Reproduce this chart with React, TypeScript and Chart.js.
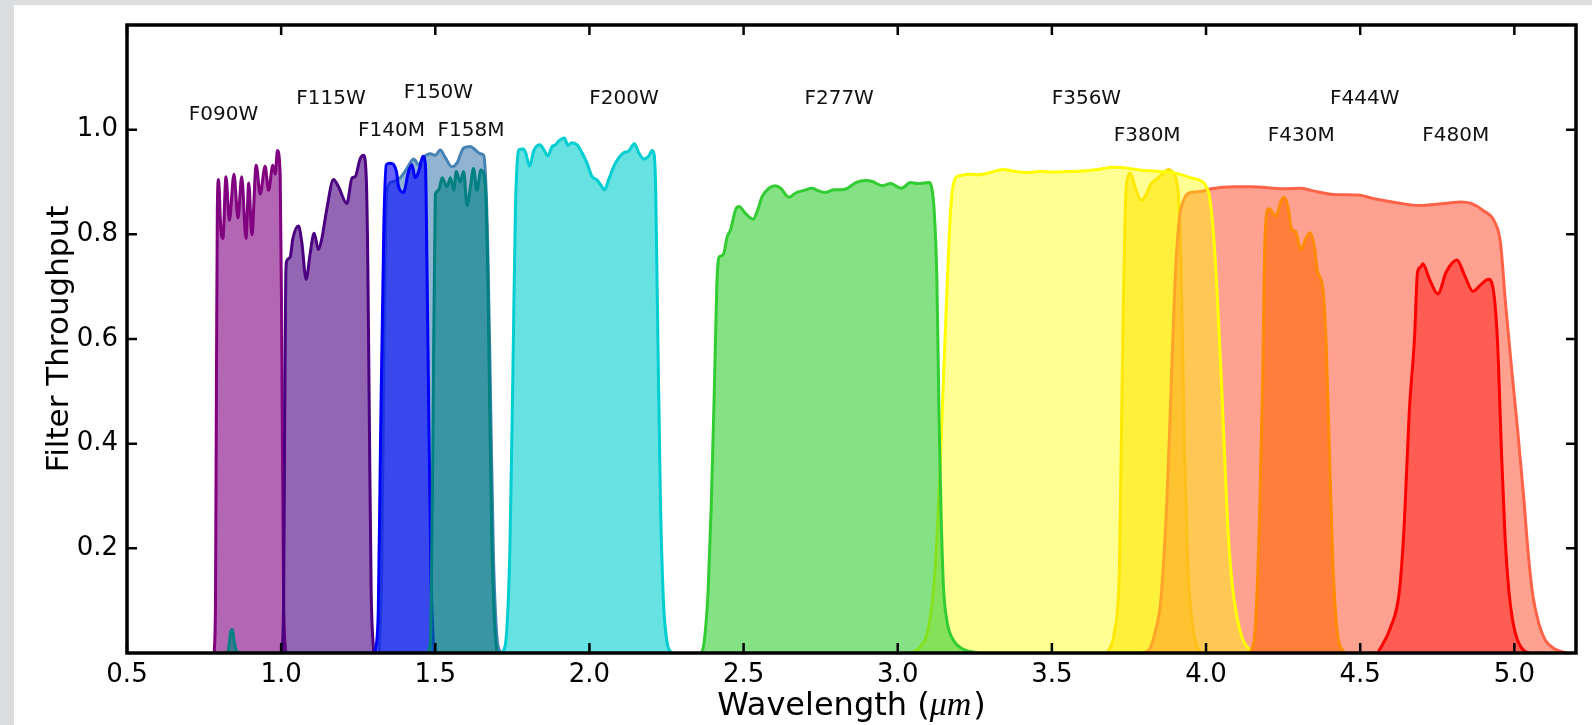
import { useEffect, useRef } from 'react';
import { Chart, registerables } from 'chart.js';

Chart.register(...registerables);

// ---------- Data (wavelength in µm, throughput) ----------
const F090W_X = [0.783, 0.787, 0.790, 0.793, 0.797, 0.804, 0.811, 0.821, 0.832, 0.847, 0.860, 0.872, 0.886, 0.895, 0.905, 0.919, 0.932, 0.948, 0.959, 0.973, 0.981, 0.988, 0.997, 1.002, 1.008, 1.015];
const F090W_Y = [0, 0.1, 0.5, 0.85, 0.905, 0.813, 0.792, 0.910, 0.827, 0.915, 0.831, 0.910, 0.792, 0.898, 0.799, 0.932, 0.877, 0.930, 0.884, 0.932, 0.915, 0.960, 0.91, 0.60, 0.10, 0];

const F115W_X = [1.003, 1.008, 1.012, 1.015, 1.018, 1.029, 1.038, 1.056, 1.067, 1.081, 1.094, 1.107, 1.121, 1.132, 1.148, 1.170, 1.186, 1.213, 1.230, 1.240, 1.256, 1.267, 1.276, 1.281, 1.286, 1.292, 1.300];
const F115W_Y = [0, 0.1, 0.5, 0.72, 0.749, 0.756, 0.792, 0.816, 0.785, 0.714, 0.763, 0.802, 0.771, 0.792, 0.848, 0.905, 0.891, 0.859, 0.908, 0.91, 0.944, 0.951, 0.91, 0.75, 0.45, 0.12, 0];

const F150W_X = [1.318, 1.326, 1.334, 1.342, 1.360, 1.386, 1.408, 1.430, 1.446, 1.462, 1.484, 1.500, 1.516, 1.532, 1.554, 1.570, 1.592, 1.614, 1.630, 1.646, 1.657, 1.663, 1.670, 1.678, 1.688, 1.700, 1.712];
const F150W_Y = [0, 0.15, 0.6, 0.88, 0.90, 0.908, 0.926, 0.944, 0.933, 0.947, 0.954, 0.951, 0.961, 0.947, 0.929, 0.936, 0.965, 0.968, 0.961, 0.954, 0.951, 0.91, 0.78, 0.53, 0.2, 0.03, 0];

const F140M_X = [1.305, 1.315, 1.322, 1.333, 1.341, 1.354, 1.365, 1.374, 1.381, 1.397, 1.413, 1.424, 1.435, 1.446, 1.460, 1.468, 1.473, 1.479, 1.486, 1.495];
const F140M_Y = [0, 0.08, 0.39, 0.813, 0.933, 0.936, 0.933, 0.92, 0.891, 0.880, 0.92, 0.933, 0.908, 0.92, 0.949, 0.933, 0.742, 0.45, 0.15, 0];

const F158M_X = [0.815, 0.828, 0.836, 0.842, 0.848, 0.856, 0.870, 1.470, 1.484, 1.492, 1.500, 1.511, 1.522, 1.538, 1.549, 1.560, 1.568, 1.581, 1.592, 1.603, 1.614, 1.624, 1.635, 1.648, 1.659, 1.665, 1.670, 1.677, 1.684, 1.692, 1.700];
const F158M_Y = [0, 0.003, 0.04, 0.045, 0.02, 0.003, 0, 0, 0.02, 0.39, 0.876, 0.884, 0.908, 0.891, 0.908, 0.884, 0.92, 0.90, 0.92, 0.855, 0.891, 0.926, 0.884, 0.923, 0.911, 0.86, 0.74, 0.45, 0.2, 0.06, 0];

const F200W_X = [1.718, 1.730, 1.742, 1.752, 1.760, 1.766, 1.771, 1.785, 1.793, 1.806, 1.819, 1.839, 1.852, 1.865, 1.879, 1.890, 1.900, 1.919, 1.930, 1.943, 1.960, 1.976, 1.992, 2.008, 2.024, 2.037, 2.049, 2.062, 2.079, 2.095, 2.111, 2.127, 2.146, 2.160, 2.176, 2.192, 2.203, 2.210, 2.215, 2.222, 2.230, 2.240, 2.252, 2.265];
const F200W_Y = [0, 0.03, 0.2, 0.55, 0.85, 0.94, 0.962, 0.963, 0.956, 0.930, 0.959, 0.971, 0.962, 0.950, 0.968, 0.971, 0.978, 0.984, 0.970, 0.975, 0.971, 0.956, 0.936, 0.911, 0.904, 0.894, 0.885, 0.904, 0.930, 0.946, 0.956, 0.959, 0.973, 0.956, 0.944, 0.949, 0.960, 0.952, 0.88, 0.6, 0.3, 0.1, 0.02, 0];

const F277W_X = [2.365, 2.373, 2.385, 2.395, 2.405, 2.413, 2.418, 2.423, 2.434, 2.447, 2.458, 2.474, 2.485, 2.506, 2.531, 2.546, 2.560, 2.582, 2.604, 2.620, 2.647, 2.669, 2.696, 2.723, 2.739, 2.766, 2.793, 2.815, 2.836, 2.864, 2.896, 2.918, 2.950, 2.977, 3.012, 3.042, 3.063, 3.085, 3.102, 3.109, 3.118, 3.127, 3.134, 3.140, 3.148, 3.160, 3.180, 3.210, 3.260];
const F277W_Y = [0, 0.025, 0.12, 0.28, 0.5, 0.7, 0.75, 0.758, 0.761, 0.796, 0.809, 0.847, 0.853, 0.840, 0.829, 0.847, 0.872, 0.888, 0.893, 0.888, 0.871, 0.879, 0.884, 0.888, 0.884, 0.880, 0.885, 0.885, 0.888, 0.899, 0.903, 0.901, 0.893, 0.897, 0.888, 0.899, 0.897, 0.898, 0.899, 0.892, 0.847, 0.713, 0.45, 0.28, 0.13, 0.06, 0.025, 0.008, 0];

const F356W_X = [3.04, 3.07, 3.10, 3.12, 3.135, 3.148, 3.161, 3.172, 3.185, 3.20, 3.23, 3.26, 3.30, 3.34, 3.38, 3.42, 3.46, 3.50, 3.55, 3.60, 3.65, 3.70, 3.75, 3.80, 3.85, 3.90, 3.93, 3.95, 3.984, 4.000, 4.011, 4.022, 4.035, 4.049, 4.060, 4.070, 4.085, 4.10, 4.12, 4.15];
const F356W_Y = [0, 0.01, 0.05, 0.15, 0.32, 0.52, 0.713, 0.85, 0.905, 0.912, 0.915, 0.914, 0.918, 0.924, 0.92, 0.918, 0.92, 0.919, 0.92, 0.921, 0.924, 0.928, 0.926, 0.922, 0.92, 0.917, 0.912, 0.908, 0.902, 0.892, 0.873, 0.816, 0.7, 0.53, 0.38, 0.247, 0.13, 0.07, 0.025, 0];

const F380M_X = [3.68, 3.703, 3.719, 3.730, 3.740, 3.747, 3.754, 3.770, 3.789, 3.805, 3.821, 3.838, 3.854, 3.868, 3.878, 3.890, 3.898, 3.905, 3.910, 3.919, 3.930, 3.940, 3.957, 3.973, 3.99];
const F380M_Y = [0, 0.04, 0.164, 0.6, 0.88, 0.91, 0.917, 0.89, 0.865, 0.875, 0.896, 0.905, 0.913, 0.92, 0.924, 0.92, 0.914, 0.9, 0.878, 0.742, 0.389, 0.177, 0.05, 0.01, 0];

const F444W_X = [3.78, 3.81, 3.835, 3.854, 3.875, 3.888, 3.899, 3.913, 3.930, 3.951, 3.984, 4.016, 4.091, 4.146, 4.254, 4.306, 4.341, 4.416, 4.493, 4.546, 4.633, 4.687, 4.774, 4.828, 4.860, 4.900, 4.935, 4.955, 4.971, 4.990, 5.010, 5.030, 5.045, 5.060, 5.080, 5.100, 5.130, 5.170];
const F444W_Y = [0, 0.003, 0.04, 0.106, 0.318, 0.53, 0.705, 0.827, 0.869, 0.880, 0.882, 0.887, 0.891, 0.891, 0.887, 0.888, 0.884, 0.876, 0.875, 0.868, 0.859, 0.855, 0.859, 0.862, 0.859, 0.845, 0.825, 0.784, 0.671, 0.55, 0.43, 0.3, 0.19, 0.11, 0.055, 0.025, 0.008, 0];

const F430M_X = [4.14, 4.157, 4.173, 4.184, 4.189, 4.198, 4.205, 4.227, 4.243, 4.254, 4.267, 4.278, 4.290, 4.308, 4.324, 4.338, 4.351, 4.362, 4.378, 4.389, 4.400, 4.411, 4.427, 4.449];
const F430M_Y = [0, 0.03, 0.247, 0.53, 0.742, 0.845, 0.849, 0.835, 0.863, 0.871, 0.849, 0.809, 0.806, 0.770, 0.792, 0.803, 0.778, 0.728, 0.70, 0.60, 0.389, 0.177, 0.034, 0];

const F480M_X = [4.557, 4.600, 4.627, 4.643, 4.659, 4.676, 4.686, 4.697, 4.703, 4.725, 4.752, 4.779, 4.814, 4.839, 4.866, 4.890, 4.916, 4.930, 4.945, 4.958, 4.970, 4.982, 4.995, 5.010, 5.030, 5.050];
const F480M_Y = [0, 0.051, 0.118, 0.247, 0.459, 0.60, 0.728, 0.738, 0.744, 0.714, 0.686, 0.728, 0.751, 0.721, 0.691, 0.703, 0.714, 0.70, 0.60, 0.389, 0.22, 0.12, 0.06, 0.025, 0.005, 0];

// Filter name annotations (wavelength, throughput of label centre)
const LABEL_NAMES = ['F090W', 'F115W', 'F140M', 'F150W', 'F158M', 'F200W', 'F277W', 'F356W', 'F380M', 'F430M', 'F444W', 'F480M'];
const LABEL_X = [0.813, 1.162, 1.358, 1.510, 1.616, 2.112, 2.810, 3.612, 3.809, 4.309, 4.515, 4.810];
const LABEL_Y = [1.028, 1.059, 0.998, 1.071, 0.998, 1.059, 1.059, 1.059, 0.989, 0.989, 1.059, 0.989];

const X_TICKS = [0.5, 1.0, 1.5, 2.0, 2.5, 3.0, 3.5, 4.0, 4.5, 5.0];
const Y_TICKS = [0.2, 0.4, 0.6, 0.8, 1.0];

// ---------- Styles ----------
const FILTERS = [
  { name: 'F090W', xs: F090W_X, ys: F090W_Y, line: '#800080', fill: 'rgba(128,0,128,0.6)' },
  { name: 'F115W', xs: F115W_X, ys: F115W_Y, line: '#4b0082', fill: 'rgba(75,0,130,0.6)' },
  { name: 'F150W', xs: F150W_X, ys: F150W_Y, line: '#4682b4', fill: 'rgba(70,130,180,0.6)' },
  { name: 'F140M', xs: F140M_X, ys: F140M_Y, line: '#0000ff', fill: 'rgba(0,0,255,0.6)' },
  { name: 'F158M', xs: F158M_X, ys: F158M_Y, line: '#008080', fill: 'rgba(0,128,128,0.6)' },
  { name: 'F200W', xs: F200W_X, ys: F200W_Y, line: '#00ced1', fill: 'rgba(0,206,209,0.6)' },
  { name: 'F380M', xs: F380M_X, ys: F380M_Y, line: '#ffd700', fill: 'rgba(255,215,0,0.6)' },
  { name: 'F444W', xs: F444W_X, ys: F444W_Y, line: '#ff6347', fill: 'rgba(255,99,71,0.6)' },
  { name: 'F356W', xs: F356W_X, ys: F356W_Y, line: '#ffff00', fill: 'rgba(255,255,0,0.42)' },
  { name: 'F277W', xs: F277W_X, ys: F277W_Y, line: '#32cd32', fill: 'rgba(50,205,50,0.6)' },
  { name: 'F430M', xs: F430M_X, ys: F430M_Y, line: '#ff8c00', fill: 'rgba(255,104,3,0.6)' },
  { name: 'F480M', xs: F480M_X, ys: F480M_Y, line: '#ff0000', fill: 'rgba(255,0,0,0.42)' },
];

const FONT = "'DejaVu Sans'";

const framePlugin = {
  id: 'framePlugin',
  afterDraw(chart: any) {
    const { ctx, chartArea: a, scales } = chart;
    const xs = scales.x;
    const ys = scales.y;
    ctx.save();
    ctx.strokeStyle = '#000';
    ctx.lineWidth = 2.5;
    ctx.beginPath();
    xs.ticks.forEach((t: any) => {
      const px = xs.getPixelForValue(t.value);
      ctx.moveTo(px, a.bottom);
      ctx.lineTo(px, a.bottom - 10);
      ctx.moveTo(px, a.top);
      ctx.lineTo(px, a.top + 10);
    });
    ys.ticks.forEach((t: any) => {
      const py = ys.getPixelForValue(t.value);
      ctx.moveTo(a.left, py);
      ctx.lineTo(a.left + 10, py);
      ctx.moveTo(a.right, py);
      ctx.lineTo(a.right - 10, py);
    });
    ctx.stroke();
    ctx.lineWidth = 3.5;
    ctx.strokeRect(a.left, a.top, a.right - a.left, a.bottom - a.top);

    // filter labels
    ctx.fillStyle = '#111';
    ctx.font = `20px ${FONT}`;
    ctx.textAlign = 'center';
    ctx.textBaseline = 'middle';
    LABEL_NAMES.forEach((n, i) => {
      ctx.fillText(n, xs.getPixelForValue(LABEL_X[i]), ys.getPixelForValue(LABEL_Y[i]));
    });

    // x axis title with italic math unit
    const p1 = 'Wavelength (';
    const p2 = 'μm';
    const p3 = ')';
    const f1 = `32px ${FONT}`;
    const f2 = `italic 34px 'Liberation Serif'`;
    ctx.font = f1;
    const w1 = ctx.measureText(p1).width;
    const w3 = ctx.measureText(p3).width;
    ctx.font = f2;
    const w2 = ctx.measureText(p2).width + 2;
    const cx = (a.left + a.right) / 2;
    let x0 = cx - (w1 + w2 + w3) / 2;
    const by = 710;
    ctx.textAlign = 'left';
    ctx.textBaseline = 'alphabetic';
    ctx.fillStyle = '#000';
    ctx.font = f1;
    ctx.fillText(p1, x0, by);
    x0 += w1;
    ctx.font = f2;
    ctx.fillText(p2, x0, by);
    x0 += w2;
    ctx.font = f1;
    ctx.fillText(p3, x0, by);
    ctx.restore();
  },
};

export default function App() {
  const ref = useRef<HTMLCanvasElement>(null);

  useEffect(() => {
    document.body.style.margin = '0';
    document.body.style.background = '#dcdddf';
    document.documentElement.style.background = '#dcdddf';
    Chart.defaults.font.family = FONT;
    Chart.defaults.color = '#000';
    const N = FILTERS.length;
    const datasets = FILTERS.map((f, s) => ({
      label: f.name,
      data: f.xs.map((x, i) => ({ x, y: f.ys[i] })),
      borderColor: f.line,
      backgroundColor: f.fill,
      borderWidth: 3,
      pointRadius: 0,
      fill: 'origin',
      cubicInterpolationMode: 'monotone' as const,
      order: N - s,
    }));
    const chart = new Chart(ref.current as HTMLCanvasElement, {
      type: 'line',
      data: { datasets },
      options: {
        animation: false,
        responsive: false,
        events: [],
        layout: { padding: { left: 0, right: 16, top: 20, bottom: 12 } },
        plugins: { legend: { display: false }, tooltip: { enabled: false } },
        scales: {
          x: {
            type: 'linear',
            min: 0.5,
            max: 5.2,
            grid: { display: false },
            border: { display: false },
            afterBuildTicks: (s: any) => {
              s.ticks = X_TICKS.map((v) => ({ value: v }));
            },
            afterFit: (s: any) => {
              s.height = 60;
            },
            ticks: {
              font: { size: 26 },
              color: '#000',
              padding: -1,
              maxRotation: 0,
              autoSkip: false,
              callback: (v: any) => Number(v).toFixed(1),
            },
          },
          y: {
            type: 'linear',
            min: 0,
            max: 1.2,
            grid: { display: false },
            border: { display: false },
            afterBuildTicks: (s: any) => {
              s.ticks = Y_TICKS.map((v) => ({ value: v }));
            },
            afterFit: (s: any) => {
              s.width = 113;
            },
            title: {
              display: true,
              text: 'Filter Throughput',
              font: { size: 31 },
              color: '#000',
              padding: { top: 27, bottom: 0 },
            },
            ticks: {
              font: { size: 26 },
              color: '#000',
              padding: 1,
              autoSkip: false,
              callback: (v: any) => Number(v).toFixed(1),
            },
          },
        },
      },
      plugins: [framePlugin],
    });
    return () => chart.destroy();
  }, []);

  return (
    <div style={{ position: 'absolute', left: 14, top: 5, width: 1578, height: 720, background: '#fff' }}>
      <canvas ref={ref} width={1578} height={720} style={{ display: 'block' }} />
    </div>
  );
}
